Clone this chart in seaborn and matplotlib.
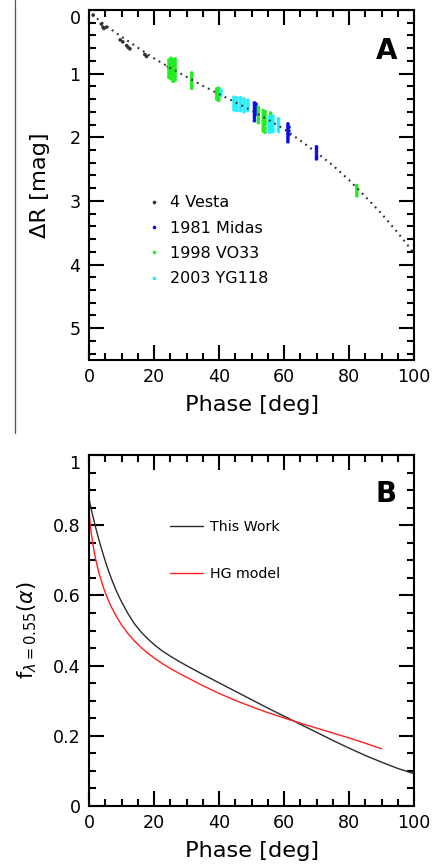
import matplotlib
matplotlib.use("Agg")
import matplotlib.pyplot as plt
from matplotlib.lines import Line2D
from matplotlib.ticker import MultipleLocator, FixedLocator, FixedFormatter
import pandas as pd
import seaborn as sns

# ---------------- Panel A: relative R magnitude vs. phase angle ----------------
object_names = ["4 Vesta", "1981 Midas", "1998 VO33", "2003 YG118"]
object_colors = ["#333333", "#0a0aee", "#22ee22", "#22eeff"]

# phase curve of 4 Vesta (dotted)
vesta_curve_phase = [1, 5, 10, 15, 20, 25, 30, 35, 40, 45, 50, 55, 60, 65, 70,
                     75, 80, 85, 90, 95, 100]
vesta_curve_mag = [0.07, 0.24, 0.42, 0.59, 0.76, 0.91, 1.05, 1.19, 1.32, 1.45,
                   1.58, 1.72, 1.87, 2.05, 2.24, 2.44, 2.67, 2.93, 3.20, 3.50, 3.82]

# 4 Vesta measurements
vesta_phase = [1.3, 3.8, 4.3, 4.6, 5.4, 9.6, 10.4, 11.6, 12.1, 12.6, 17.2, 17.7,
               24.4, 24.8, 25.1]
vesta_mag = [0.08, 0.22, 0.27, 0.29, 0.27, 0.47, 0.50, 0.56, 0.59, 0.61, 0.70, 0.73,
             0.89, 0.94, 0.99]

# 1981 Midas
midas_phase = [50.9] * 8 + [51.4] * 5 + [61.2] * 8 + [61.5] * 3 + [70.0] * 6
midas_mag = [1.46, 1.50, 1.54, 1.58, 1.62, 1.66, 1.70, 1.74,
             1.48, 1.52, 1.56, 1.60, 1.64,
             1.79, 1.83, 1.87, 1.91, 1.95, 1.99, 2.03, 2.07,
             1.84, 1.90, 1.96,
             2.15, 2.19, 2.23, 2.27, 2.31, 2.34]

# 1998 VO33
vo33_phase = ([24.6] * 8 + [25.2] * 9 + [25.9] * 9 + [26.5] * 9 + [31.6] * 7
              + [39.3] * 5 + [39.9] * 6 + [52.1] * 7 + [53.6] * 9 + [54.2] * 7
              + [55.9] * 8 + [82.4] * 5)
vo33_mag = [0.79, 0.83, 0.87, 0.91, 0.95, 0.99, 1.03, 1.06,
            0.76, 0.80, 0.84, 0.88, 0.92, 0.96, 1.00, 1.04, 1.08,
            0.78, 0.82, 0.86, 0.90, 0.94, 0.98, 1.02, 1.07, 1.12,
            0.77, 0.81, 0.85, 0.89, 0.93, 0.97, 1.01, 1.05, 1.10,
            0.99, 1.03, 1.07, 1.11, 1.15, 1.19, 1.23,
            1.24, 1.28, 1.32, 1.36, 1.40,
            1.23, 1.27, 1.31, 1.35, 1.39, 1.42,
            1.53, 1.57, 1.61, 1.65, 1.69, 1.73, 1.77,
            1.58, 1.62, 1.66, 1.70, 1.74, 1.78, 1.82, 1.86, 1.90,
            1.60, 1.65, 1.70, 1.75, 1.80, 1.86, 1.92,
            1.62, 1.66, 1.70, 1.74, 1.78, 1.82, 1.86, 1.90,
            2.76, 2.80, 2.84, 2.88, 2.92]

# 2003 YG118
yg118_phase = ([40.6] * 3 + [44.6] * 6 + [45.5] * 6 + [46.6] * 6 + [47.7] * 6
               + [48.9] * 5 + [55.5] * 7 + [56.6] * 7 + [58.3] * 6)
yg118_mag = [1.26, 1.30, 1.34,
             1.37, 1.41, 1.45, 1.49, 1.53, 1.57,
             1.38, 1.42, 1.46, 1.50, 1.54, 1.58,
             1.38, 1.42, 1.46, 1.50, 1.54, 1.58,
             1.40, 1.44, 1.48, 1.52, 1.56, 1.60,
             1.42, 1.46, 1.50, 1.54, 1.58,
             1.68, 1.72, 1.76, 1.80, 1.84, 1.88, 1.92,
             1.67, 1.71, 1.75, 1.79, 1.83, 1.87, 1.91,
             1.71, 1.75, 1.79, 1.83, 1.87, 1.91]

# ---------------- Panel B: normalised phase function ----------------
curve_labels = ["This Work", "HG model"]
work_phase = [0, 1, 2, 3, 4, 5, 6, 7, 8, 9, 10, 12, 14, 16, 18, 20, 22.5, 25,
              27.5, 30, 35, 40, 45, 50, 55, 60, 65, 70, 75, 80, 85, 90, 95, 100]
work_f = [0.875, 0.833, 0.795, 0.760, 0.728, 0.698, 0.670, 0.645, 0.622, 0.601,
          0.582, 0.548, 0.519, 0.496, 0.477, 0.460, 0.442, 0.427, 0.413, 0.400,
          0.375, 0.351, 0.327, 0.303, 0.279, 0.256, 0.233, 0.210, 0.187, 0.165,
          0.144, 0.125, 0.107, 0.092]
hg_phase = [0, 0.25, 0.5, 1, 1.5, 2, 3, 4, 5, 6, 7, 8, 9, 10, 12, 14, 16, 18, 20,
            22.5, 25, 27.5, 30, 35, 40, 45, 50, 55, 60, 65, 70, 75, 80, 85, 90]
hg_f = [0.845, 0.815, 0.792, 0.757, 0.729, 0.705, 0.666, 0.635, 0.608, 0.585,
        0.565, 0.547, 0.531, 0.516, 0.491, 0.470, 0.452, 0.436, 0.422, 0.406,
        0.392, 0.379, 0.367, 0.343, 0.321, 0.301, 0.283, 0.266, 0.251, 0.236,
        0.222, 0.208, 0.194, 0.179, 0.163]

x_ticks = [0, 20, 40, 60, 80, 100]
a_yticks = [0, 1, 2, 3, 4, 5]
b_yticks = [0, 0.2, 0.4, 0.6, 0.8, 1.0]
b_ytick_labels = ["0", "0.2", "0.4", "0.6", "0.8", "1"]

# ---------------- styling ----------------
sns.set_style("ticks")
plt.rcParams["font.family"] = ["DejaVu Sans"]
plt.rcParams["mathtext.fontset"] = "dejavusans"
for key in ["text.color", "axes.labelcolor", "xtick.color", "ytick.color",
            "axes.edgecolor"]:
    plt.rcParams[key] = "black"

TICK_FS = 12.6
LABEL_FS = 16.2

fig = plt.figure(figsize=(4.36, 8.64), dpi=100)
ax_a = fig.add_axes([89 / 436, 1 - 360 / 864, 325 / 436, 350 / 864])
ax_b = fig.add_axes([89 / 436, 1 - 806 / 864, 325 / 436, 351 / 864])


def style_axes(ax):
    for sp in ax.spines.values():
        sp.set_visible(True)
        sp.set_linewidth(1.5)
        sp.set_color("black")
    ax.tick_params(which="both", direction="in", top=True, right=True,
                   bottom=True, left=True, color="black", labelcolor="black",
                   width=1.5)
    ax.tick_params(which="major", length=10.8, labelsize=TICK_FS, pad=6)
    ax.tick_params(which="minor", length=5.0)
    ax.set_xlim(0, 100)
    ax.xaxis.set_major_locator(FixedLocator(x_ticks))
    ax.xaxis.set_minor_locator(MultipleLocator(5))
    ax.set_xlabel("Phase [deg]", fontsize=LABEL_FS, labelpad=6, color="black")


# Panel A
df_a = pd.DataFrame({
    "phase": vesta_phase + midas_phase + vo33_phase + yg118_phase,
    "mag": vesta_mag + midas_mag + vo33_mag + yg118_mag,
    "object": ([object_names[0]] * len(vesta_phase) + [object_names[1]] * len(midas_phase)
               + [object_names[2]] * len(vo33_phase) + [object_names[3]] * len(yg118_phase)),
})

sns.lineplot(x=vesta_curve_phase, y=vesta_curve_mag, ax=ax_a, color="#333333",
             linewidth=1.5, linestyle=(0, (0.9, 2.1)), legend=False)
sns.scatterplot(data=df_a, x="phase", y="mag", hue="object", hue_order=object_names,
                palette=dict(zip(object_names, object_colors)), s=7, linewidth=0,
                ax=ax_a, legend=True)

style_axes(ax_a)
ax_a.set_ylim(5.5, 0)
ax_a.yaxis.set_major_locator(FixedLocator(a_yticks))
ax_a.yaxis.set_minor_locator(MultipleLocator(0.2))
ax_a.set_ylabel("ΔR [mag]", fontsize=LABEL_FS, color="black")
ax_a.yaxis.set_label_coords(-0.12, 0.5)
ax_a.get_yticklabels()[0].set_va("top")

handles, labels = ax_a.get_legend_handles_labels()
for h in handles:
    h.set_markersize(2.6)
ax_a.legend(handles, labels, loc="upper left", bbox_to_anchor=(0.185, 0.471),
            frameon=False, fontsize=11.5, handlelength=0.6, handletextpad=0.7,
            labelspacing=0.65, borderpad=0, borderaxespad=0)

ax_a.text(0.948, 0.923, "A", transform=ax_a.transAxes, ha="right", va="top",
          fontsize=20, fontweight="bold", color="black")

# Panel B
sns.lineplot(x=work_phase, y=work_f, ax=ax_b, color="#2a2a2a", linewidth=1.0,
             label=curve_labels[0])
sns.lineplot(x=hg_phase, y=hg_f, ax=ax_b, color="#ff2020", linewidth=1.0,
             label=curve_labels[1])

style_axes(ax_b)
ax_b.set_ylim(0, 1)
ax_b.yaxis.set_major_locator(FixedLocator(b_yticks))
ax_b.yaxis.set_major_formatter(FixedFormatter(b_ytick_labels))
ax_b.yaxis.set_minor_locator(MultipleLocator(0.05))
ax_b.set_ylabel(r"$\mathregular{f}_{\lambda\mathregular{=0.55}}(\alpha)$", fontsize=15,
                color="black")
ax_b.yaxis.set_label_coords(-0.155, 0.5)
ax_b.get_yticklabels()[-1].set_va("top")

ax_b.legend(loc="upper left", bbox_to_anchor=(0.249, 0.815), frameon=False,
            fontsize=10.2, handlelength=2.32, handletextpad=0.5, labelspacing=2.3,
            borderpad=0, borderaxespad=0)

ax_b.text(0.948, 0.929, "B", transform=ax_b.transAxes, ha="right", va="top",
          fontsize=20, fontweight="bold", color="black")

# thin page rule on the left of the upper panel
fig.add_artist(Line2D([15 / 436, 15 / 436], [1.0, 1 - 433 / 864],
                      transform=fig.transFigure, color="#555555", linewidth=0.9))

fig.savefig("out.png", dpi=100, facecolor="white")
